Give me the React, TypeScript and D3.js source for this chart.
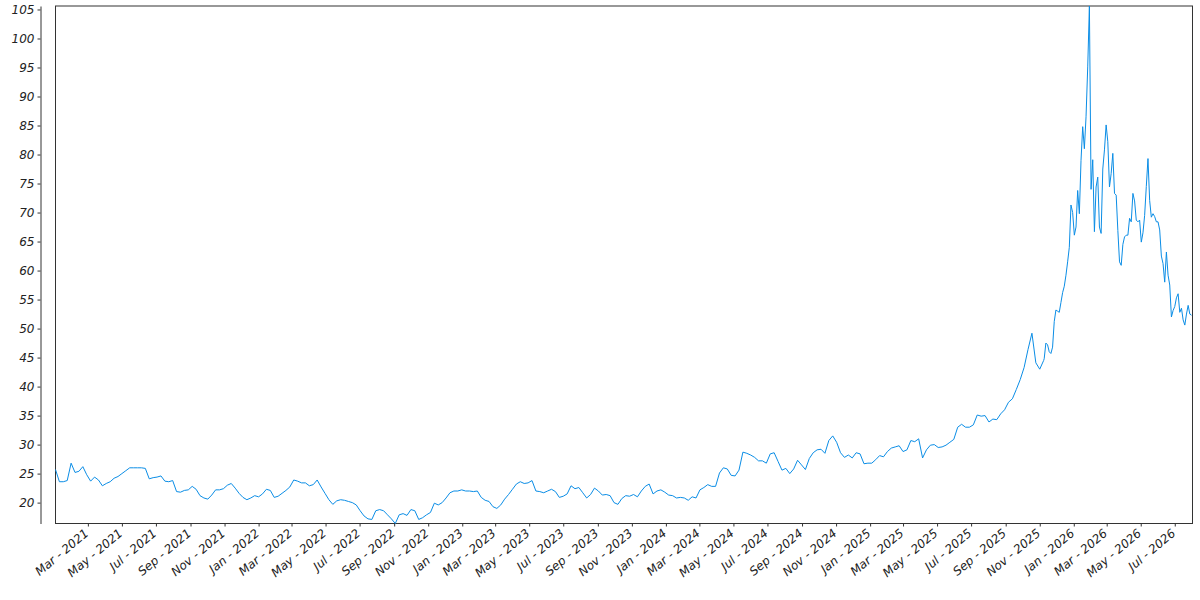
import React, { useEffect, useRef } from "react";
import * as d3 from "d3";

// weekly closes from the first week of 2021
const weeklyStart = "2021-01-02";
const weeklyClose = [
  25.7, 23.6, 23.6, 23.8, 26.8, 25.2, 25.4, 26.2, 24.8, 23.7,
  24.4, 23.9, 22.9, 23.3, 23.6, 24.2, 24.5, 25.0, 25.5, 26.0,
  26.0, 26.0, 26.0, 25.9, 24.1, 24.3, 24.4, 24.6, 23.7, 23.6,
  23.8, 21.9, 21.8, 22.1, 22.2, 22.8, 22.3, 21.2, 20.8, 20.6,
  21.3, 22.2, 22.2, 22.4, 23.0, 23.3, 22.5, 21.6, 20.9, 20.5,
  20.8, 21.2, 21.0, 21.5, 22.3, 22.1, 20.9, 21.1, 21.6, 22.1,
  22.7, 23.9, 23.7, 23.4, 23.4, 22.9, 23.1, 23.9, 22.7, 21.6,
  20.5, 19.7, 20.3, 20.5, 20.4, 20.2, 20.0, 19.6, 18.6, 17.7,
  17.2, 17.1, 18.6, 18.8, 18.6, 17.9, 17.2, 16.4, 17.9, 18.1,
  17.8, 18.8, 18.6, 17.1, 17.4, 17.9, 18.3, 19.9, 19.6, 20.0,
  20.8, 21.7, 22.0, 22.0, 22.2, 22.0, 22.0, 21.9, 22.0, 20.9,
  20.4, 20.2, 19.3, 19.0, 19.6, 20.6, 21.4, 22.3, 23.2, 23.6,
  23.3, 23.4, 23.8, 22.0, 21.9, 21.7, 22.0, 22.3, 21.9, 20.9,
  21.1, 21.5, 22.9, 22.4, 22.6, 21.7, 20.8, 21.4, 22.5, 22.0,
  21.3, 21.4, 21.2, 20.0, 19.7, 20.7, 21.2, 21.1, 21.4, 21.0,
  22.0, 22.8, 23.2, 21.5, 22.0, 22.2, 21.8, 21.3, 21.2, 20.8,
  20.9, 20.8, 20.4, 21.0, 20.8, 22.2, 22.6, 23.1, 22.8, 22.8,
  25.1, 26.0, 25.8, 24.7, 24.6, 25.6, 28.7, 28.5, 28.2, 27.8,
  27.2, 27.2, 26.8, 28.4, 28.6, 27.1, 25.6, 25.9, 25.0, 25.8,
  27.3, 26.5, 25.7, 27.6, 28.6, 29.1, 29.2, 28.5, 30.7, 31.5,
  30.4, 28.6, 27.8, 28.2, 27.7, 28.6, 28.4, 26.7, 26.8, 26.8,
  27.4, 28.1, 27.9, 28.8, 29.4, 29.6, 29.8, 28.8, 29.1, 30.7,
  30.5, 31.0, 27.7, 29.1, 29.9, 30.0, 29.5, 29.6, 29.9, 30.4,
  30.9, 33.0, 33.5, 33.0, 33.0, 33.4, 35.1, 34.9, 35.0, 33.9,
  34.4, 34.3, 35.3, 36.0, 37.3, 37.9, 39.5, 41.2, 43.3, 46.4,
  49.2, 44.1, 43.0, 44.5,
];

// recent closes, every 3 days
const recentStart = "2025-11-09";
const recentStepDays = 3;
const recentClose = [
  44.8, 47.5, 47.2, 46.0, 45.7, 46.8, 51.2, 53.2, 53.0, 52.8,
  54.5, 56.2, 57.3, 59.2, 61.5, 64.0, 71.3, 70.0, 66.1, 67.5,
  73.8, 69.8, 79.0, 84.8, 81.0, 86.5, 95.1, 105.6, 74.0, 79.1,
  66.7, 74.4, 76.1, 67.5, 66.4, 77.5, 80.8, 85.1, 82.2, 74.4,
  76.7, 80.2, 73.3, 73.0, 66.9, 61.5, 60.9, 64.5, 65.8, 66.1,
  66.1, 69.0, 68.4, 73.3, 72.0, 68.7, 68.4, 68.7, 64.9, 66.5,
  69.5, 74.5, 79.3, 72.1, 69.2, 69.8, 69.3, 68.4, 68.4, 67.0,
  62.5, 61.2, 58.0, 63.2, 59.2, 57.5, 52.0, 53.1, 53.8, 55.3,
  56.0, 52.8, 53.5, 51.5, 50.6, 52.5, 54.0, 52.5, 52.3,
];

const yTicks = [20, 25, 30, 35, 40, 45, 50, 55, 60, 65, 70, 75, 80, 85, 90, 95, 100, 105];

const LINE = "#0a8de6";
const INK = "#333";
const FONT = "'DejaVu Sans', Verdana, sans-serif";

export default function App() {
  const svgRef = useRef<SVGSVGElement>(null);

  useEffect(() => {
    if (!svgRef.current) return;
    const svg = d3.select(svgRef.current);
    svg.selectAll("*").remove();

    const parse = d3.utcParse("%Y-%m-%d");
    const w0 = parse(weeklyStart)!;
    const r0 = parse(recentStart)!;
    const data = [
      ...weeklyClose.map((v, i) => ({ date: d3.utcDay.offset(w0, i * 7), value: v })),
      ...recentClose.map((v, i) => ({ date: d3.utcDay.offset(r0, i * recentStepDays), value: v })),
    ];

    const left = 55.5, right = 1191.5, top = 6, bottom = 523.5;

    const x = d3.scaleUtc()
      .domain(d3.extent(data, d => d.date) as [Date, Date])
      .range([left, right]);
    const y = d3.scaleLinear()
      .domain(d3.extent(data, d => d.value) as [number, number])
      .range([bottom, top]);

    // frame
    svg.append("rect")
      .attr("x", left)
      .attr("y", top)
      .attr("width", 1192.5 - left)
      .attr("height", bottom - top)
      .attr("fill", "none")
      .attr("stroke", INK)
      .attr("stroke-width", 1);

    // y axis, offset to the left of the frame
    const yAxis = svg.append("g")
      .attr("transform", "translate(40.5,0)")
      .call(d3.axisLeft(y).tickValues(yTicks).tickSize(3).tickSizeOuter(0).tickPadding(3));
    yAxis.select(".domain").attr("stroke", INK);
    yAxis.selectAll(".tick line").attr("stroke", INK);
    yAxis.selectAll("text")
      .style("font-family", FONT)
      .style("font-size", "12px")
      .style("font-style", "italic")
      .attr("fill", "#222");

    // x axis
    const xAxis = svg.append("g")
      .attr("transform", `translate(0,${bottom})`)
      .call(
        d3.axisBottom(x)
          .ticks(d3.utcMonth.every(2))
          .tickFormat(d => d3.utcFormat("%b - %Y")(d as Date))
          .tickSize(3)
          .tickSizeOuter(0)
      );
    xAxis.select(".domain").remove();
    xAxis.selectAll(".tick line").attr("stroke", INK);
    xAxis.selectAll("text")
      .style("font-family", FONT)
      .style("font-size", "12px")
      .style("font-style", "italic")
      .attr("fill", "#222")
      .style("text-anchor", "end")
      .attr("x", 0)
      .attr("y", 0)
      .attr("dy", 0)
      .attr("transform", "translate(1,11) rotate(-40)");

    // price line
    const line = d3.line<{ date: Date; value: number }>()
      .x(d => x(d.date))
      .y(d => y(d.value));

    svg.append("path")
      .datum(data)
      .attr("fill", "none")
      .attr("stroke", LINE)
      .attr("stroke-width", 1)
      .attr("stroke-linejoin", "round")
      .attr("d", line);
  }, []);

  return (
    <div style={{ position: "fixed", left: 0, top: 0, width: 1200, height: 600, background: "#fff" }}>
      <svg ref={svgRef} width={1200} height={600} style={{ display: "block" }} />
    </div>
  );
}
